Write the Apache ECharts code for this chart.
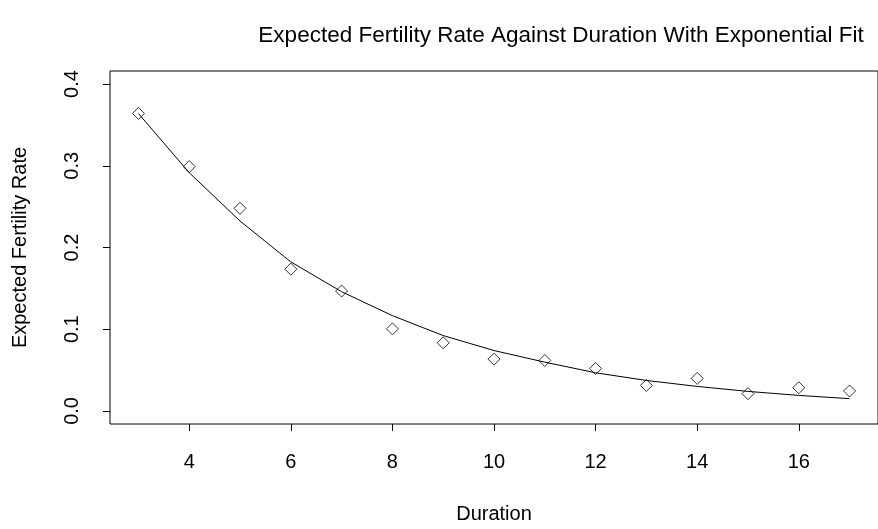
<!DOCTYPE html>
<html>
<head>
<meta charset="utf-8">
<script src="https://cdn.jsdelivr.net/npm/echarts@6/dist/echarts.min.js"></script>
<style>
  html, body { margin: 0; padding: 0; background: #fff; }
  #myChart { width: 878px; height: 529px; }
</style>
</head>
<body>
<div id="myChart"></div>
<script>
// observed points
const duration = [3, 4, 5, 6, 7, 8, 9, 10, 11, 12, 13, 14, 15, 16, 17];
const fertility = [0.364, 0.299, 0.248, 0.1735, 0.1467, 0.1004, 0.0833, 0.0634, 0.0617, 0.0519, 0.0312, 0.0398, 0.0211, 0.0284, 0.0244];
// fitted exponential curve
const fitted = [0.364, 0.2915, 0.2324, 0.1824, 0.1459, 0.1166, 0.0922, 0.0739, 0.0597, 0.0467, 0.0373, 0.030, 0.0239, 0.019, 0.015];
const xTicks = [4, 6, 8, 10, 12, 14, 16];
const yTicks = [0, 0.1, 0.2, 0.3, 0.4];

const font = 'Liberation Sans, Arial, sans-serif';
let myChart = echarts.init(document.getElementById('myChart'));

myChart.setOption({
  animation: false,
  backgroundColor: '#fff',
  title: {
    text: 'Expected Fertility Rate Against Duration With Exponential Fit',
    left: 556,
    top: 19,
    textAlign: 'center',
    textStyle: { fontFamily: font, fontSize: 22.5, fontWeight: 'normal', color: '#000' }
  },
  grid: {
    left: 110, top: 71, width: 777, height: 353.5,
    show: true, borderColor: '#000', borderWidth: 1, backgroundColor: 'transparent'
  },
  xAxis: {
    type: 'value',
    min: 2.44, max: 17.56,
    name: 'Duration',
    nameLocation: 'middle',
    nameGap: 80,
    nameTextStyle: { fontFamily: font, fontSize: 20, color: '#000' },
    axisLine: { show: false, onZero: false },
    splitLine: { show: false },
    axisTick: { show: true, length: 7, customValues: xTicks, lineStyle: { color: '#000' } },
    axisLabel: {
      customValues: xTicks, margin: 28,
      fontFamily: font, fontSize: 20, color: '#000'
    }
  },
  yAxis: {
    type: 'value',
    min: -0.016, max: 0.416,
    name: 'Expected Fertility Rate',
    nameLocation: 'middle',
    nameGap: 80,
    nameTextStyle: { fontFamily: font, fontSize: 20, color: '#000' },
    axisLine: { show: false, onZero: false },
    splitLine: { show: false },
    axisTick: { show: true, length: 7, customValues: yTicks, lineStyle: { color: '#000' } },
    axisLabel: {
      customValues: yTicks, margin: 28, rotate: 90,
      formatter: v => v.toFixed(1),
      fontFamily: font, fontSize: 20, color: '#000'
    }
  },
  series: [
    {
      type: 'line',
      data: duration.map((d, i) => [d, fitted[i]]),
      symbol: 'none',
      lineStyle: { color: '#000', width: 1 },
      silent: true
    },
    {
      type: 'scatter',
      data: duration.map((d, i) => [d, fertility[i]]),
      symbol: 'diamond',
      symbolSize: [12, 12],
      itemStyle: { color: 'rgba(0,0,0,0)', borderColor: '#000', borderWidth: 1 }
    }
  ]
});
</script>
</body>
</html>
